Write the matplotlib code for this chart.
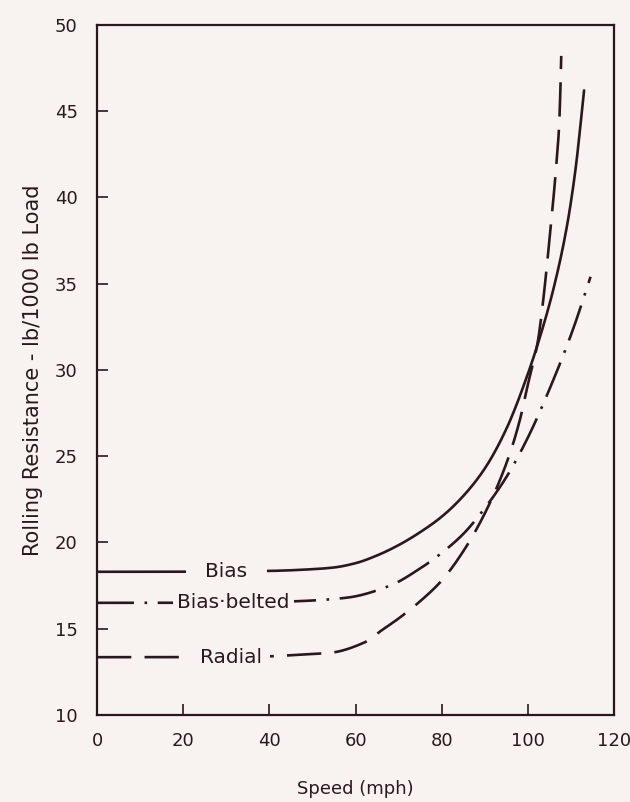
import matplotlib
matplotlib.use('Agg')
import matplotlib.pyplot as plt
import numpy as np

# values
speed_bias = [0, 20, 40, 50, 55, 60, 65, 70, 75, 80, 85, 90, 95, 100, 103, 106, 109, 111, 113]
rr_bias = [18.3, 18.3, 18.35, 18.45, 18.55, 18.8, 19.25, 19.85, 20.6, 21.5, 22.7, 24.3, 26.6, 29.8, 32.1, 34.8, 38.3, 41.6, 46.2]

speed_belted = [0, 20, 40, 47, 58, 68, 75, 80, 85, 90, 95, 100, 106, 110.5, 114.5]
rr_belted = [16.5, 16.5, 16.55, 16.6, 16.8, 17.5, 18.5, 19.4, 20.5, 22.0, 23.8, 26.1, 29.5, 32.4, 35.4]

speed_radial = [0, 20, 40, 47, 54, 62, 66, 70, 75, 80, 85, 90, 95, 98, 100, 102.3, 103.5, 105.1, 106.5, 107.3, 107.7]
rr_radial = [13.35, 13.35, 13.4, 13.5, 13.6, 14.2, 14.9, 15.6, 16.6, 17.8, 19.5, 21.7, 24.6, 27.0, 29.2, 31.7, 34.0, 37.9, 41.7, 44.6, 48.2]

labels = ['Bias', 'Bias\u00b7belted', 'Radial']
label_x = [30, 31.6, 31]
label_pad = [14, 3, 6]

bg = '#f8f3f0'
ink = '#2b181c'

#__________________________________________________________
def pchip(x, y, n=500):
    # monotone cubic so the hand drawn curves stay smooth
    x = np.asarray(x, float)
    y = np.asarray(y, float)
    h = np.diff(x)
    d = np.diff(y) / h
    m = np.zeros_like(y)
    for k in range(1, len(x) - 1):
        if d[k - 1] * d[k] > 0:
            w1 = 2 * h[k] + h[k - 1]
            w2 = h[k] + 2 * h[k - 1]
            m[k] = (w1 + w2) / (w1 / d[k - 1] + w2 / d[k])
    m[0] = d[0]
    m[-1] = d[-1]
    xs = np.linspace(x[0], x[-1], n)
    i = np.clip(np.searchsorted(x, xs) - 1, 0, len(h) - 1)
    t = (xs - x[i]) / h[i]
    h00 = 2 * t**3 - 3 * t**2 + 1
    h10 = t**3 - 2 * t**2 + t
    h01 = -2 * t**3 + 3 * t**2
    h11 = t**3 - t**2
    ys = h00 * y[i] + h10 * h[i] * m[i] + h01 * y[i + 1] + h11 * h[i] * m[i + 1]
    return xs, ys

fig = plt.figure(figsize=(6.3, 8.02), dpi=100, facecolor=bg)
ax = fig.add_axes([0.154, 0.1085, 0.821, 0.8605])
ax.set_facecolor(bg)

x, y = pchip(speed_bias, rr_bias)
ax.plot(x, y, color=ink, lw=1.9, solid_capstyle='round')
x, y = pchip(speed_belted, rr_belted)
ax.plot(x, y, color=ink, lw=1.9, linestyle=(0, (14, 4, 1, 4)))
x, y = pchip(speed_radial, rr_radial)
ax.plot(x, y, color=ink, lw=1.9, linestyle=(0, (13, 5)))

lab_y = [rr_bias[0], rr_belted[0], rr_radial[0]]
for t, lx, ly, p in zip(labels, label_x, lab_y, label_pad):
    ax.text(lx, ly, t, ha='center', va='center', fontsize=14.5, color=ink,
            bbox=dict(facecolor=bg, edgecolor='none', pad=p))

ax.set_xlim(0, 120)
ax.set_ylim(10, 50)
ax.set_xticks(np.arange(0, 121, 20))
ax.set_yticks(np.arange(10, 51, 5))
ax.tick_params(direction='in', length=8, width=1.2, color=ink, labelcolor=ink, labelsize=13)
ax.tick_params(axis='y', pad=14)
ax.tick_params(axis='x', pad=12)
for s in ax.spines.values():
    s.set_color(ink)
    s.set_linewidth(1.6)

ax.set_xlabel('Speed (mph)', fontsize=13, color=ink, labelpad=22)
ax.set_ylabel('Rolling Resistance - lb/1000 lb Load', fontsize=15, color=ink, labelpad=8)

plt.savefig('out.png', dpi=100, facecolor=bg)
